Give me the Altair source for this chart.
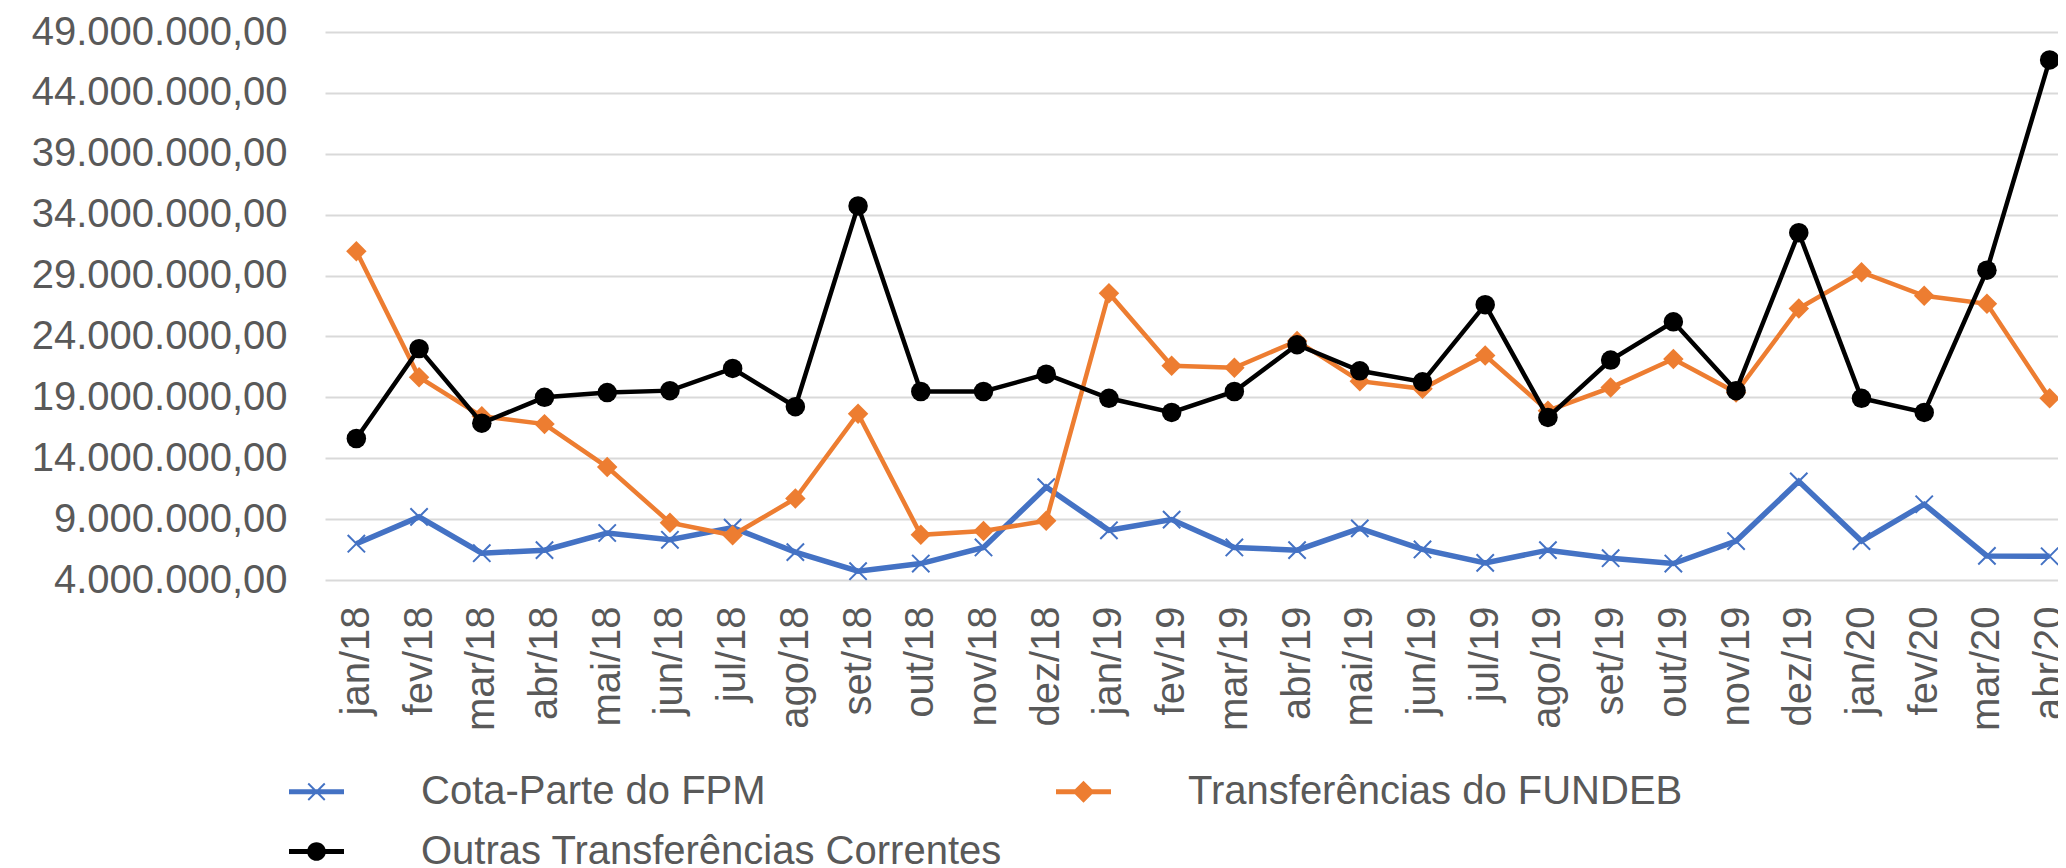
import altair as alt
import pandas as pd

# ---------------- data ----------------
months = ["jan/18", "fev/18", "mar/18", "abr/18", "mai/18", "jun/18", "jul/18", "ago/18",
          "set/18", "out/18", "nov/18", "dez/18", "jan/19", "fev/19", "mar/19", "abr/19",
          "mai/19", "jun/19", "jul/19", "ago/19", "set/19", "out/19", "nov/19", "dez/19",
          "jan/20", "fev/20", "mar/20", "abr/20"]

series_names = ["Cota-Parte do FPM", "Transferências do FUNDEB", "Outras Transferências Correntes"]

# values in millions of R$
fpm = [6.98, 9.18, 6.20, 6.45, 7.86, 7.30, 8.30, 6.29, 4.72, 5.35, 6.67, 11.63, 8.08, 8.96,
       6.67, 6.45, 8.24, 6.51, 5.41, 6.45, 5.79, 5.35, 7.20, 12.10, 7.20, 10.22, 5.98, 5.95]
fundeb = [31.00, 20.65, 17.44, 16.80, 13.27, 8.71, 7.67, 10.69, 17.66, 7.71, 8.02, 8.87,
          27.55, 21.59, 21.43, 23.63, 20.33, 19.70, 22.44, 17.90, 19.80, 22.15, 19.39, 26.30,
          29.28, 27.34, 26.68, 18.92]
outras = [15.62, 23.00, 16.88, 19.00, 19.39, 19.55, 21.37, 18.23, 34.72, 19.48, 19.48, 20.90,
          18.92, 17.76, 19.48, 23.32, 21.18, 20.27, 26.61, 17.35, 22.06, 25.20, 19.55, 32.52,
          18.92, 17.76, 29.44, 46.71]

y_ticks = [4000000, 9000000, 14000000, 19000000, 24000000, 29000000,
           34000000, 39000000, 44000000, 49000000]

colors = ["#4472C4", "#ED7D31", "#000000"]
text_color = "#595959"
grid_color = "#D9D9D9"
FONT = "Liberation Sans"

rows = []
for name, vals in zip(series_names, [fpm, fundeb, outras]):
    for m, v in zip(months, vals):
        rows.append({"mes": m, "serie": name, "valor": v * 1_000_000})
df = pd.DataFrame(rows)

# legend symbols: a line segment with the series marker (filled shapes)
leg_x = ("M-1,-0.09H1V0.09H-1Z "
         "M-0.275,-0.325L0.325,0.275L0.275,0.325L-0.325,-0.275Z "
         "M0.325,-0.275L-0.275,0.325L-0.325,0.275L0.275,-0.325Z")
leg_diamond = "M-1,-0.09H1V0.09H-1Z M0,-0.4L0.4,0L0,0.4L-0.4,0Z"
leg_circle = "M-1,-0.09H1V0.09H-1Z M0.34,0A0.34,0.34 0 1,1 -0.34,0A0.34,0.34 0 1,1 0.34,0Z"
legend_paths = [leg_x, leg_diamond, leg_circle]

x_enc = alt.X("mes:N", sort=months,
              scale=alt.Scale(domain=months),
              axis=alt.Axis(title=None, labelAngle=-90, labelFontSize=40, labelColor=text_color,
                            labelFont=FONT, labelPadding=26, ticks=False, tickSize=0,
                            domain=False, grid=False, labelOverlap=False, labelLimit=1000))
y_enc = alt.Y("valor:Q",
              scale=alt.Scale(domain=[4000000, 49000000], nice=False, zero=False),
              axis=alt.Axis(title=None, values=y_ticks, format=",.2f", labelFontSize=40,
                            labelColor=text_color, labelFont=FONT, labelPadding=38,
                            labelLimit=1000, labelOverlap=False,
                            ticks=False, tickSize=0, domain=False, grid=True,
                            gridColor=grid_color, gridWidth=2))

base = alt.Chart(df)

line_widths = [5.5, 4.5, 4.5]
layers = []
for i, name in enumerate(series_names):
    sub = base.transform_filter(alt.datum.serie == name)
    line = sub.mark_line(color=colors[i], strokeWidth=line_widths[i]).encode(x=x_enc, y=y_enc)
    if i == 0:
        pts = sub.mark_point(shape="M-1,-1L1,1M-1,1L1,-1", filled=False, size=300,
                             color=colors[i], strokeWidth=2, opacity=1).encode(x=x_enc, y=y_enc)
    elif i == 1:
        pts = sub.mark_point(shape="diamond", filled=True, size=420,
                             color=colors[i], opacity=1).encode(x=x_enc, y=y_enc)
    else:
        pts = sub.mark_point(shape="circle", filled=True, size=380,
                             color=colors[i], opacity=1).encode(x=x_enc, y=y_enc)
    layers += [line, pts]

legend_def = alt.Legend(title=None, orient="none", legendX=-36, legendY=732, columns=2,
                        direction="horizontal",
                        columnPadding=54, rowPadding=12, labelFontSize=40, labelColor=text_color,
                        labelFont=FONT, labelLimit=2000, labelOffset=77, symbolSize=3025,
                        symbolStrokeWidth=0, symbolOpacity=1, padding=0)

legend_layer = base.transform_filter("false").mark_point(
    filled=True, size=3025, strokeWidth=0, opacity=1
).encode(
    x=x_enc, y=y_enc,
    color=alt.Color("serie:N", scale=alt.Scale(domain=series_names, range=colors), legend=legend_def),
    shape=alt.Shape("serie:N", scale=alt.Scale(domain=series_names, range=legend_paths), legend=legend_def),
)

chart = alt.layer(*layers, legend_layer).properties(
    width=1756, height=548,
    padding={"left": 317, "top": 24, "right": -23, "bottom": 296},
    autosize=alt.AutoSizeParams(type="none"),
).configure(
    font=FONT,
    locale={"number": {"decimal": ",", "thousands": ".", "grouping": [3], "currency": ["R$ ", ""]}},
).configure_view(stroke=None)

chart.save("out.html", embed_options={"renderer": "svg", "actions": False})
